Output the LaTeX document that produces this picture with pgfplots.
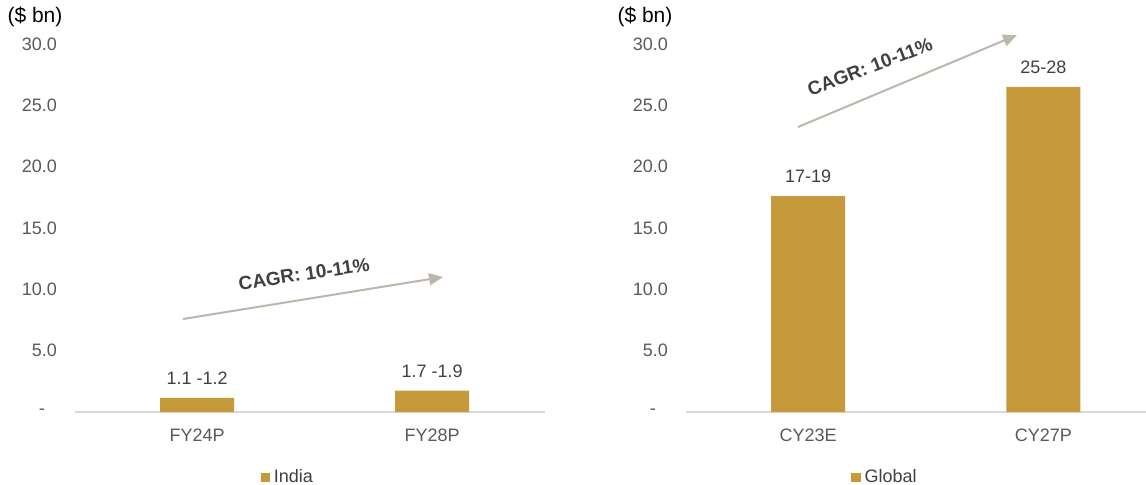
\documentclass[border=0pt]{standalone}
\usepackage{fontspec}
\setmainfont{Liberation Sans}
\usepackage{pgfplots}
\pgfplotsset{compat=1.18}
\usepackage{pgfplotstable}
\usetikzlibrary{arrows.meta}
\definecolor{barc}{HTML}{C69A3A}
\definecolor{tickc}{HTML}{595959}
\definecolor{lblc}{HTML}{404040}
\definecolor{arrc}{HTML}{BDB6AC}
\definecolor{axlc}{HTML}{D9D9D9}
\pgfplotstableread[col sep=comma]{
x,y,label
0,1.15,1.1 -1.2
1,1.75,1.7 -1.9
}\indiadata
\pgfplotstableread[col sep=comma]{
x,y,label
0,17.6,17-19
1,26.5,25-28
}\globaldata
\begin{document}
\begin{tikzpicture}[x=0.5pt,y=0.5pt]
\useasboundingbox (0,0) rectangle (1146,484);
\coordinate (LA) at (75,72);
\coordinate (RA) at (686,72);
\pgfplotsset{
  mystyle/.style={
    scale only axis, height=184pt,
    ymin=0, ymax=30, ytick={0,5,...,30},
    yticklabels={{\makebox[9pt][l]{-}},5.0,10.0,15.0,20.0,25.0,30.0},
    xmin=-0.52, xtick={0,1},
    axis x line*=bottom, axis y line*=left,
    y axis line style={draw=none},
    x axis line style={axlc, line width=1pt},
    major tick length=0pt, tick style={draw=none},
    ticklabel style={font=\fontsize{9}{10}\selectfont, text=tickc},
    yticklabel style={xshift=-5.5pt},
    xticklabel style={yshift=-5pt},
    clip=false,
    legend style={draw=none, fill=none, font=\fontsize{9}{10}\selectfont, text=lblc,
      inner sep=0pt, anchor=center},
    legend image code/.code={\fill[##1,draw=none] (0pt,-2.3pt) rectangle (4.6pt,2.3pt);},
    nodes near coords style={font=\fontsize{9}{10}\selectfont, text=lblc, yshift=3pt},
  }
}
\begin{axis}[mystyle, at={(LA)}, anchor=south west, width=235pt, xmax=1.48,
  xticklabels={FY24P,FY28P},
  legend style={at={(rel axis cs:0.455,-0.177)}}]
\addplot[ybar, fill=barc, draw=none, bar width=37pt, nodes near coords,
  point meta=explicit symbolic] table[x=x, y=y, meta=label] {\indiadata};
\addlegendentry{India}
\end{axis}
\begin{axis}[mystyle, at={(RA)}, anchor=south west, width=230pt, xmax=1.437,
  xticklabels={CY23E,CY27P},
  legend style={at={(rel axis cs:0.435,-0.177)}}]
\addplot[ybar, fill=barc, draw=none, bar width=37pt, nodes near coords,
  point meta=explicit symbolic] table[x=x, y=y, meta=label] {\globaldata};
\addlegendentry{Global}
\end{axis}
\node[font=\fontsize{10.5}{12}\selectfont] at (35,467) {(\$ bn)};
\node[font=\fontsize{10.5}{12}\selectfont] at (645,467) {(\$ bn)};
\draw[arrc, line width=1pt, -{Triangle[length=7pt,width=6pt]}] (183,165) -- (443,207);
\draw[arrc, line width=1pt, -{Triangle[length=7pt,width=6pt]}] (798,357) -- (1017,449);
\node[font=\bfseries\fontsize{9.5}{11}\selectfont, text=lblc, rotate=8.5] at (304,210) {CAGR: 10-11\%};
\node[font=\bfseries\fontsize{9.5}{11}\selectfont, text=lblc, rotate=21] at (870,417) {CAGR: 10-11\%};
\end{tikzpicture}
\end{document}
